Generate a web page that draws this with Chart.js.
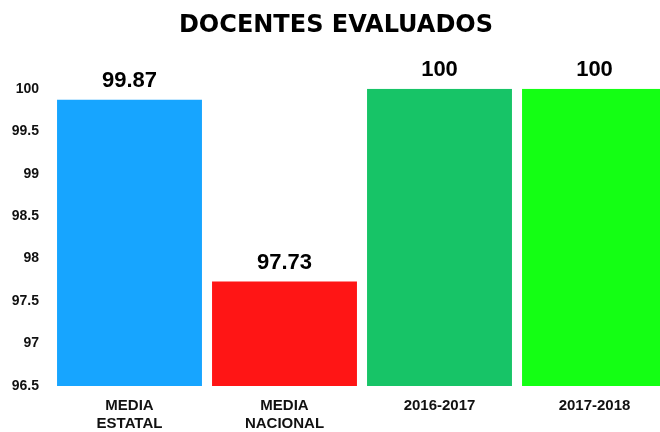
<!DOCTYPE html>
<html>
<head>
<meta charset="utf-8">
<script src="https://cdn.jsdelivr.net/npm/chart.js@4.4.1/dist/chart.umd.min.js"></script>
<style>
html,body{margin:0;padding:0;overflow:hidden;background:#fff;}
#wrap{width:680px;height:432px;}
</style>
</head>
<body>
<div id="wrap"><canvas id="c" width="680" height="432"></canvas></div>
<script>
const categories = [["MEDIA","ESTATAL"],["MEDIA","NACIONAL"],"2016-2017","2017-2018"];
const values = [99.87, 97.73, 100, 100];
const valueLabels = ["99.87","97.73","100","100"];
const barColors = ["#17A5FF","#FF1515","#17C467","#14FF14"];
const yMin = 96.5, yMax = 100, yStep = 0.5;

const valueLabelPlugin = {
  id: 'valueLabels',
  afterDatasetsDraw(chart){
    const ctx = chart.ctx;
    const meta = chart.getDatasetMeta(0);
    ctx.save();
    ctx.font = 'bold 22px "Liberation Sans", Arial, sans-serif';
    ctx.fillStyle = '#000';
    ctx.textAlign = 'center';
    ctx.textBaseline = 'bottom';
    meta.data.forEach((bar, i) => {
      ctx.fillText(valueLabels[i], bar.x, bar.y - 8);
    });
    ctx.restore();
  }
};

new Chart(document.getElementById('c'), {
  type: 'bar',
  data: {
    labels: categories,
    datasets: [{
      data: values,
      backgroundColor: barColors,
      borderWidth: 0,
      barPercentage: 1,
      categoryPercentage: 0.935
    }]
  },
  options: {
    responsive: false,
    animation: false,
    layout: { padding: { left: 0, right: 8, top: 0, bottom: 0 } },
    plugins: {
      legend: { display: false },
      tooltip: { enabled: false },
      title: {
        display: true,
        text: 'DOCENTES EVALUADOS',
        color: '#000',
        font: { family: '"DejaVu Sans", sans-serif', size: 24, weight: 'bold' },
        padding: { top: 11, bottom: 49 }
      }
    },
    scales: {
      x: {
        grid: { display: false, drawTicks: false },
        border: { display: false },
        ticks: {
          color: '#111',
          padding: 11,
          maxRotation: 0,
          autoSkip: false,
          font: { family: '"Liberation Sans", Arial, sans-serif', size: 15, weight: 'bold', lineHeight: 1.2 }
        },
        afterFit(scale){ scale.height = 46; }
      },
      y: {
        min: yMin,
        max: yMax,
        grid: { display: false, drawTicks: false },
        border: { display: false },
        ticks: {
          stepSize: yStep,
          color: '#111',
          padding: 13,
          font: { family: '"Liberation Sans", Arial, sans-serif', size: 14, weight: 'bold' },
          callback: (v) => String(Math.round(v * 10) / 10)
        },
        afterFit(scale){ scale.width = 52; }
      }
    }
  },
  plugins: [valueLabelPlugin]
});
</script>
</body>
</html>
